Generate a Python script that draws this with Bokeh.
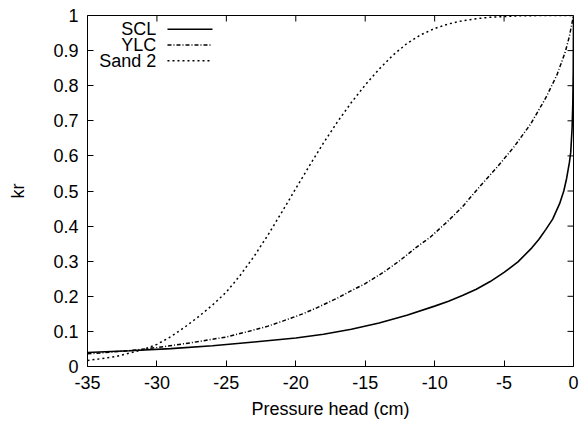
from bokeh.plotting import figure
from bokeh.models import Range1d, FixedTicker, Label, Arrow
from bokeh.embed import file_html
from bokeh.resources import INLINE

# ---- data ----
scl_h = [-35, -32, -29, -26, -23, -20, -18, -16, -14, -12, -10, -9, -8, -7, -6, -5,
         -4, -3, -2.5, -2, -1.5, -1.0, -0.7, -0.5, -0.3, -0.2, -0.1, -0.05, -0.02, 0]
scl_kr = [0.040, 0.045, 0.051, 0.059, 0.070, 0.081, 0.092, 0.106, 0.124, 0.146, 0.172,
          0.186, 0.202, 0.220, 0.242, 0.268, 0.298, 0.338, 0.362, 0.390, 0.420, 0.464,
          0.500, 0.535, 0.580, 0.610, 0.680, 0.750, 0.840, 1.0]

ylc_h = [-35, -32, -30, -27.5, -25, -23.3, -22, -20.9, -19.5, -18.5, -17, -16, -15,
         -13.7, -12.5, -11.3, -10.3, -9.1, -8, -6.7, -5.5, -4.3, -3.1, -2.0, -1.2,
         -0.6, -0.3, 0]
ylc_kr = [0.036, 0.045, 0.054, 0.068, 0.084, 0.101, 0.115, 0.130, 0.150, 0.167, 0.195,
          0.216, 0.236, 0.268, 0.302, 0.340, 0.369, 0.412, 0.455, 0.515, 0.568, 0.625,
          0.690, 0.765, 0.830, 0.895, 0.940, 1.0]

sand_h = [-35, -33, -31, -30, -29, -28, -27, -26, -25, -24, -23, -22, -21, -20, -19,
          -18, -17, -16, -15, -14, -13, -12, -11, -10, -9, -8, -7, -6, -5, -4, -2, 0]
sand_kr = [0.017, 0.028, 0.048, 0.063, 0.085, 0.112, 0.142, 0.175, 0.212, 0.260, 0.314,
           0.375, 0.440, 0.507, 0.573, 0.637, 0.697, 0.752, 0.802, 0.847, 0.887, 0.920,
           0.945, 0.963, 0.976, 0.985, 0.991, 0.995, 0.997, 0.999, 1.0, 1.0]

series_names = ["SCL", "YLC", "Sand 2"]

x_ticks = [-35, -30, -25, -20, -15, -10, -5, 0]
x_tick_labels = ["-35", "-30", "-25", "-20", "-15", "-10", "-5", "0"]
y_ticks = [0, 0.1, 0.2, 0.3, 0.4, 0.5, 0.6, 0.7, 0.8, 0.9, 1]
y_tick_labels = ["0", "0.1", "0.2", "0.3", "0.4", "0.5", "0.6", "0.7", "0.8", "0.9", "1"]

X0, X1, Y0, Y1 = -35, 0, 0, 1

FONT = "Liberation Sans"
FS = "18px"
DASHDOT = "4 2 1 2"
DOTTED = "2 3"
TICK = 6

W, H = 584, 425
BL, BR, BT, BB = 87, 11, 15, 59
FW, FH = W - BL - BR, H - BT - BB

p = figure(width=W, height=H, x_range=Range1d(X0, X1), y_range=Range1d(Y0, Y1),
           output_backend="svg", toolbar_location=None, title=None,
           min_border_left=BL, min_border_right=BR, min_border_top=BT, min_border_bottom=BB)
p.grid.visible = False
p.outline_line_color = "black"
p.outline_line_width = 1
p.background_fill_color = "white"
p.border_fill_color = "white"

xo = {t: l for t, l in zip(x_ticks, x_tick_labels)}
yo = {t: l for t, l in zip(y_ticks, y_tick_labels)}

for ax, ticks, ov in ((p.xaxis[0], x_ticks, xo), (p.yaxis[0], y_ticks, yo)):
    ax.ticker = FixedTicker(ticks=ticks)
    ax.major_label_overrides = ov
    ax.major_tick_in = TICK
    ax.major_tick_out = 0
    ax.minor_tick_line_color = None
    ax.major_tick_line_color = "black"
    ax.axis_line_color = None
    ax.major_label_text_font = FONT
    ax.major_label_text_font_size = FS
    ax.major_label_text_color = "black"
    ax.axis_label_text_font = FONT
    ax.axis_label_text_font_size = FS
    ax.axis_label_text_font_style = "normal"
    ax.axis_label_text_color = "black"

p.xaxis[0].major_label_standoff = 9
p.yaxis[0].major_label_standoff = 9
p.xaxis[0].axis_label = "Pressure head (cm)"
p.yaxis[0].axis_label = "kr"
p.xaxis[0].axis_label_standoff = 7
p.yaxis[0].axis_label_standoff = 22

# mirrored ticks on the top and right edges of the frame
dy = TICK * (Y1 - Y0) / FH
dx = TICK * (X1 - X0) / FW
p.segment(x0=x_ticks, y0=[Y1] * len(x_ticks), x1=x_ticks, y1=[Y1 - dy] * len(x_ticks),
          line_color="black", line_width=1)
p.segment(x0=[X1] * len(y_ticks), y0=y_ticks, x1=[X1 - dx] * len(y_ticks), y1=y_ticks,
          line_color="black", line_width=1)

p.line(scl_h, scl_kr, line_color="black", line_width=1.6)
p.line(ylc_h, ylc_kr, line_color="black", line_width=1.5, line_dash=DASHDOT)
p.line(sand_h, sand_kr, line_color="black", line_width=1.5, line_dash=DOTTED)

# legend (gnuplot style: label, then sample)
leg_text_x = -30.05
leg_x0, leg_x1 = -29.24, -26.0
leg_ys = [0.961, 0.916, 0.871]
leg_dash = ["solid", DASHDOT, DOTTED]
for name, ly, dash in zip(series_names, leg_ys, leg_dash):
    p.add_layout(Label(x=leg_text_x, y=ly, text=name, text_align="right",
                       text_baseline="middle", text_font=FONT, text_font_size=FS,
                       text_color="black"))
    p.add_layout(Arrow(end=None, x_start=leg_x0, y_start=ly, x_end=leg_x1, y_end=ly,
                       line_color="black", line_width=1.5, line_dash=dash))

open("out.html", "w").write(file_html(p, INLINE))
